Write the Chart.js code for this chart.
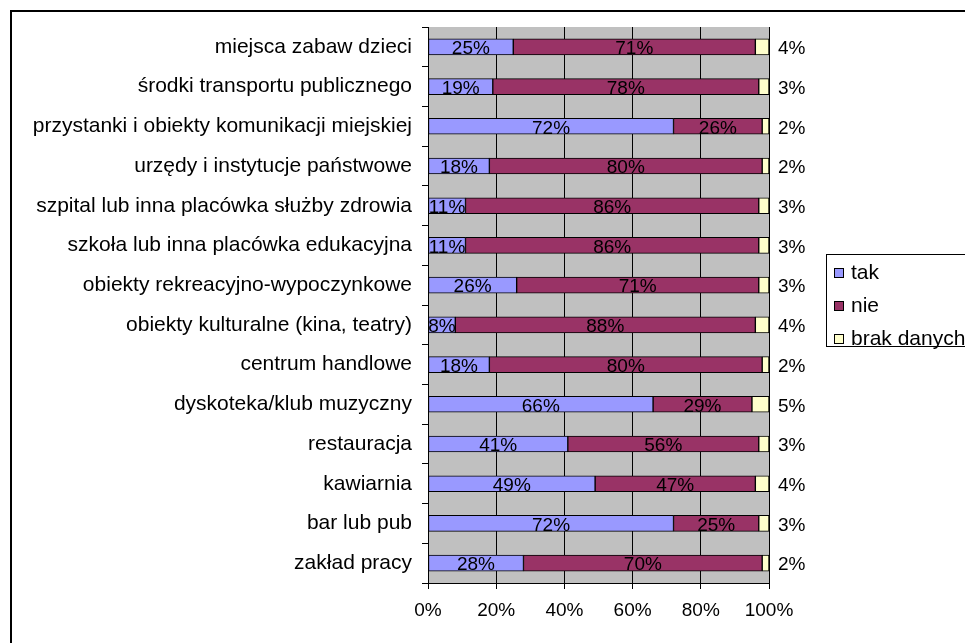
<!DOCTYPE html>
<html>
<head>
<meta charset="utf-8">
<script src="https://cdn.jsdelivr.net/npm/chart.js@4"></script>
<style>
  html, body { margin: 0; padding: 0; background: #fff; }
  #wrap { width: 965px; height: 643px; position: relative; }
</style>
</head>
<body>
<div id="wrap"><canvas id="odpowiedzi"></canvas></div>
<script>
// categories, top to bottom as in the picture
var categories = [
    'miejsca zabaw dzieci',
    'środki transportu publicznego',
    'przystanki i obiekty komunikacji miejskiej',
    'urzędy i instytucje państwowe',
    'szpital lub inna placówka służby zdrowia',
    'szkoła lub inna placówka edukacyjna',
    'obiekty rekreacyjno-wypoczynkowe',
    'obiekty kulturalne (kina, teatry)',
    'centrum handlowe',
    'dyskoteka/klub muzyczny',
    'restauracja',
    'kawiarnia',
    'bar lub pub',
    'zakład pracy'
];
var tak  = [25, 19, 72, 18, 11, 11, 26, 8, 18, 66, 41, 49, 72, 28];
var nie  = [71, 78, 26, 80, 86, 86, 71, 88, 80, 29, 56, 47, 25, 70];
var brak = [4, 3, 2, 2, 3, 3, 3, 4, 2, 5, 3, 4, 3, 2];
var seriesNames = ['tak', 'nie', 'brak danych'];
var xTicks = [0, 20, 40, 60, 80, 100];

var FONT = '"Liberation Sans", Arial, sans-serif';

// grey plot area + outer frame
var background = {
    id: 'background',
    beforeDraw: function (chart) {
        var c = chart.ctx, a = chart.chartArea;
        c.save();
        c.fillStyle = '#C0C0C0';
        c.fillRect(a.left, a.top, a.right - a.left, a.bottom - a.top);
        c.strokeStyle = '#000';
        c.lineWidth = 2;
        c.strokeRect(11, 11, 1000, 1000);
        c.restore();
    }
};

// value labels: tak/nie centred in segment, brak to the right of the bar
var barLabels = {
    id: 'barLabels',
    afterDatasetsDraw: function (chart) {
        var c = chart.ctx;
        c.save();
        c.font = '19px ' + FONT;
        c.fillStyle = '#000';
        c.textBaseline = 'middle';
        chart.data.datasets.forEach(function (ds, i) {
            var meta = chart.getDatasetMeta(i);
            meta.data.forEach(function (el, j) {
                var txt = ds.data[j] + '%';
                if (i < 2) {
                    c.textAlign = 'center';
                    c.fillText(txt, (el.x + el.base) / 2, el.y + 2);
                } else {
                    c.textAlign = 'left';
                    c.fillText(txt, el.x + 9, el.y + 2);
                }
            });
        });
        c.restore();
    }
};

// legend with a frame, Excel style
var boxLegend = {
    id: 'boxLegend',
    afterDraw: function (chart) {
        var c = chart.ctx;
        c.save();
        c.strokeStyle = '#000';
        c.lineWidth = 1;
        c.strokeRect(826.5, 254.5, 200, 92);
        c.font = '21px ' + FONT;
        c.textBaseline = 'middle';
        c.textAlign = 'left';
        chart.data.datasets.forEach(function (ds, i) {
            var y = 273 + i * 33;
            c.fillStyle = ds.backgroundColor;
            c.fillRect(834, y - 5, 10, 10);
            c.strokeRect(834.5, y - 4.5, 9, 9);
            c.fillStyle = '#000';
            c.fillText(ds.label, 851, y);
        });
        c.restore();
    }
};

var ctx = document.getElementById('odpowiedzi');
var myChart = new Chart(ctx, {
    type: 'bar',
    data: {
        labels: categories,
        datasets: [{
            label: seriesNames[0],
            data: tak,
            backgroundColor: '#9999FF'
        }, {
            label: seriesNames[1],
            data: nie,
            backgroundColor: '#993366'
        }, {
            label: seriesNames[2],
            data: brak,
            backgroundColor: '#FFFFCC'
        }]
    },
    options: {
        indexAxis: 'y',
        responsive: true,
        maintainAspectRatio: false,
        animation: false,
        datasets: {
            bar: {
                borderColor: '#000',
                borderWidth: 1,
                borderSkipped: false,
                barThickness: 16
            }
        },
        layout: {
            padding: { left: 0, top: 27, right: 196, bottom: 20 }
        },
        plugins: {
            legend: { display: false },
            tooltip: { enabled: false }
        },
        scales: {
            x: {
                stacked: true,
                min: 0,
                max: 100,
                afterBuildTicks: function (scale) {
                    scale.ticks = xTicks.map(function (v) { return { value: v }; });
                },
                afterFit: function (scale) { scale.height = 40; },
                ticks: {
                    color: '#000',
                    font: { family: FONT, size: 19 },
                    padding: 10,
                    maxRotation: 0,
                    callback: function (v) { return v + '%'; }
                },
                grid: {
                    color: '#000',
                    lineWidth: 1,
                    tickLength: 6,
                    tickColor: '#000'
                },
                border: { color: '#000', width: 1 }
            },
            y: {
                stacked: true,
                afterFit: function (scale) { scale.width = 428; },
                ticks: {
                    color: '#000',
                    font: { family: FONT, size: 21 },
                    padding: 10,
                    autoSkip: false
                },
                grid: {
                    offset: true,
                    drawOnChartArea: false,
                    tickLength: 6,
                    tickColor: '#000'
                },
                border: { color: '#000', width: 1 }
            }
        }
    },
    plugins: [background, barLabels, boxLegend]
});
</script>
</body>
</html>
